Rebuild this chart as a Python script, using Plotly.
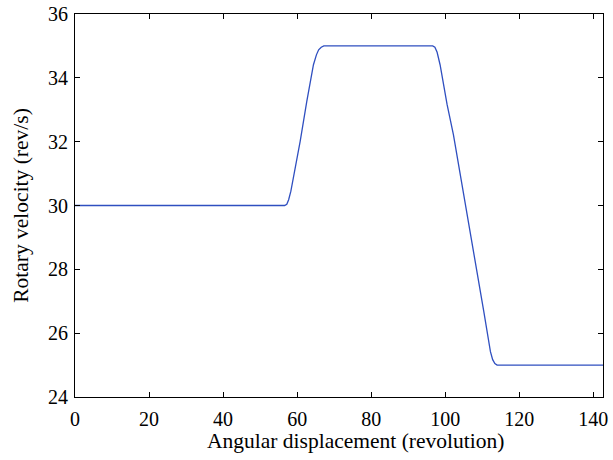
import plotly.graph_objects as go

# Angular displacement (revolution) and rotary velocity (rev/s)
displacement = [0, 20, 40, 56.6, 57.2, 57.7, 58.3, 59.0, 60.8, 62.6, 64.4, 65.2, 65.8, 66.5, 67.2,
                80, 96.6, 97.2, 97.8, 98.6, 100.5, 102.2, 104.9, 107.6, 110.4, 112.2, 112.8, 113.4, 114.0, 114.6,
                130, 142.6]
velocity = [30, 30, 30, 30, 30.04, 30.18, 30.45, 30.86, 32.0, 33.26, 34.41, 34.72, 34.88, 34.96, 35.0,
            35, 35, 34.96, 34.8, 34.41, 33.16, 32.22, 30.44, 28.66, 26.68, 25.42, 25.17, 25.05, 25.0, 25.0,
            25, 25]

x_ticks = [0, 20, 40, 60, 80, 100, 120, 140]
y_ticks = [24, 26, 28, 30, 32, 34, 36]

tick_font = dict(family="Liberation Serif, serif", size=20, color="black")
title_font = dict(family="Liberation Serif, serif", size=21.5, color="black")

fig = go.Figure(go.Scatter(
    x=displacement, y=velocity, mode="lines",
    line=dict(color="#2f4fc0", width=1.3),
    showlegend=False, hoverinfo="skip",
))

axis_common = dict(
    showgrid=False, zeroline=False, showline=True, linecolor="black", linewidth=1,
    mirror="ticks", ticks="inside", ticklen=5, tickcolor="black", tickwidth=1,
    tickfont=tick_font, automargin=False,
)

fig.update_xaxes(range=[0, 142.6], tickvals=x_ticks, ticklabelstandoff=4, **axis_common)
fig.update_yaxes(range=[24, 36], tickvals=y_ticks, ticklabelstandoff=2,
                 title=dict(text="Rotary velocity (rev/s)", font=title_font, standoff=13),
                 **axis_common)

fig.add_annotation(
    text="Angular displacement (revolution)", font=title_font,
    xref="paper", yref="paper", x=0.532, y=-0.115,
    xanchor="center", yanchor="middle", showarrow=False,
)

fig.update_layout(
    width=613, height=460,
    margin=dict(l=75, r=10, t=14, b=63),
    plot_bgcolor="white", paper_bgcolor="white",
    font=tick_font,
)

fig.write_html(
    "out.html",
    config={"displayModeBar": False, "staticPlot": True},
    post_script="document.body.style.margin='0';document.body.style.overflow='hidden';",
)
